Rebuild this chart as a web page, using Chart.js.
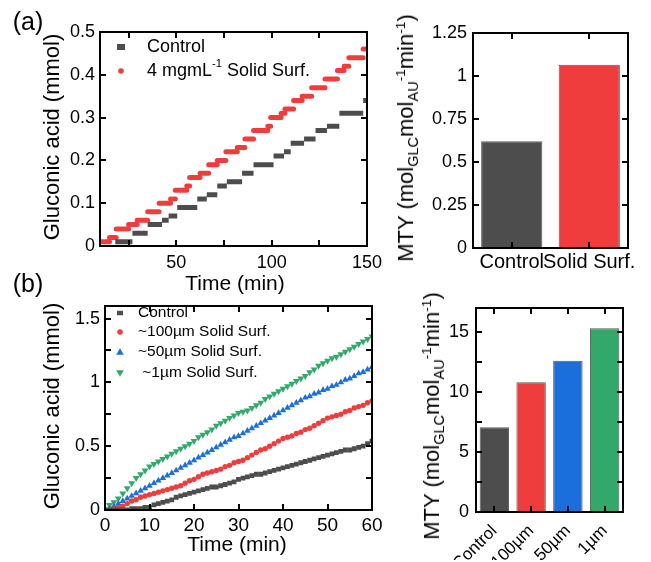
<!DOCTYPE html>
<html>
<head>
<meta charset="utf-8">
<script src="https://cdn.jsdelivr.net/npm/chart.js@4.4.1/dist/chart.umd.min.js"></script>
<style>
  body { margin: 0; background: #fff; }
  #fig { position: relative; width: 651px; height: 562px; overflow: hidden;
         font-family: 'Liberation Sans', Arial, sans-serif; color: #000; }
  #fig canvas { position: absolute; }
  .lbl { position: absolute; white-space: nowrap; line-height: 1; transform: translate(-50%, -50%); }
  .rot { transform: translate(-50%, -50%) rotate(-90deg); }
  .sub { font-size: 0.66em; vertical-align: -0.3em; }
  .sup { font-size: 0.62em; vertical-align: 0.6em; }
  .frame { position: absolute; box-sizing: border-box; border: 2px solid #000; pointer-events: none; }
  .tick { position: absolute; background: #000; pointer-events: none; }
</style>
</head>
<body>
<div id="fig">
  <canvas id="a1" width="395" height="300" style="left:0;top:0"></canvas>
  <canvas id="a2" width="271" height="300" style="left:380px;top:0"></canvas>
  <canvas id="b1" width="395" height="272" style="left:0;top:290px"></canvas>
  <canvas id="b2" width="271" height="272" style="left:380px;top:290px"></canvas>

  <div class="lbl" style="left:28px;top:21px;font-size:25px">(a)</div>
  <div class="lbl" style="left:28px;top:283px;font-size:25px">(b)</div>

  <div class="lbl rot" style="left:52px;top:137px;font-size:22px">Gluconic acid (mmol)</div>
  <div class="lbl" style="left:235px;top:282px;font-size:21px">Time (min)</div>
  <div class="lbl rot" style="left:407px;top:138px;font-size:22px">MTY (mol<span class="sub">GLC</span>mol<span class="sub">AU</span><span class="sup">-1</span>min<span class="sup">-1</span>)</div>

  <div class="lbl rot" style="left:52px;top:406px;font-size:22px">Gluconic acid (mmol)</div>
  <div class="lbl" style="left:237px;top:543px;font-size:21px">Time (min)</div>
  <div class="lbl rot" style="left:433px;top:416px;font-size:22px">MTY (mol<span class="sub">GLC</span>mol<span class="sub">AU</span><span class="sup">-1</span>min<span class="sup">-1</span>)</div>
</div>

<script>
// ---- (a) left: step data, [start min, end min, mmol]
const ctrlRunsA = [
  [18, 27, 0.01], [27, 35, 0.03], [35, 42.5, 0.05], [42.5, 46, 0.06], [46, 50.5, 0.07],
  [50.5, 61, 0.09], [61, 66, 0.11], [66, 71.5, 0.12], [71.5, 76.5, 0.14], [76.5, 84.5, 0.15],
  [84.5, 90.5, 0.17], [90.5, 101, 0.19], [101, 106.5, 0.21], [106.5, 110, 0.22], [110, 117, 0.24],
  [117, 123, 0.25], [123, 129, 0.27], [129, 135.5, 0.28], [135.5, 148, 0.31], [148, 150, 0.34]
];
const surfRunsA = [
  [10, 15, 0.01], [15, 18.5, 0.02], [18.5, 25, 0.04], [25, 29.5, 0.05], [29.5, 35, 0.06],
  [35, 41, 0.08], [41, 47, 0.10], [47, 49.5, 0.11], [49.5, 55.5, 0.13], [55.5, 57, 0.14],
  [57, 62.5, 0.16], [62.5, 67, 0.17], [67, 71.5, 0.19], [71.5, 76, 0.20], [76, 82, 0.22],
  [82, 86, 0.23], [86, 90.5, 0.25], [90.5, 98, 0.27], [98, 99.5, 0.28], [99.5, 105, 0.30],
  [105, 107, 0.31], [107, 111.5, 0.32], [111.5, 116, 0.34], [116, 121, 0.35], [121, 128, 0.37],
  [128, 134.5, 0.39], [134.5, 138, 0.41], [138, 140.5, 0.42], [140.5, 148, 0.44], [148, 150, 0.46]
];
const timeTicksA = [25, 50, 75, 100, 125, 150];
const timeLabelsA = [50, 100, 150];
const gluTicksA = [0, 0.1, 0.2, 0.3, 0.4, 0.5];

// ---- (a) right: bars
const barCatsA = ['Control', 'Solid Surf.'];
const mtyA = [0.62, 1.065];
const mtyTicksA = [0, 0.25, 0.5, 0.75, 1, 1.25];

// ---- (b) left: time course
const minutesB = [0, 1, 2, 3, 4, 5, 6, 7, 8, 9, 10, 11, 12, 13, 14, 15, 16, 17, 18, 19, 20,
  21, 22, 23, 24, 25, 26, 27, 28, 29, 30, 31, 32, 33, 34, 35, 36, 37, 38, 39, 40,
  41, 42, 43, 44, 45, 46, 47, 48, 49, 50, 51, 52, 53, 54, 55, 56, 57, 58, 59, 60];
const ctrlB = [0, 0, 0, 0, 0, 0, 0.01, 0.01, 0.01, 0.02, 0.02, 0.04, 0.05, 0.06, 0.07, 0.08,
  0.10, 0.11, 0.12, 0.13, 0.14, 0.15, 0.16, 0.17, 0.18, 0.18, 0.19, 0.20, 0.21, 0.22, 0.24,
  0.25, 0.26, 0.27, 0.28, 0.28, 0.29, 0.30, 0.31, 0.32, 0.33, 0.34, 0.35, 0.36, 0.37, 0.38,
  0.39, 0.40, 0.41, 0.42, 0.43, 0.44, 0.45, 0.46, 0.47, 0.47, 0.48, 0.49, 0.50, 0.52, 0.54];
const um100B = [0, 0, 0.01, 0.02, 0.03, 0.05, 0.07, 0.08, 0.10, 0.11, 0.12, 0.13, 0.14, 0.15,
  0.16, 0.17, 0.18, 0.19, 0.21, 0.23, 0.24, 0.26, 0.28, 0.29, 0.30, 0.31, 0.32, 0.34, 0.35,
  0.37, 0.38, 0.39, 0.41, 0.43, 0.45, 0.47, 0.48, 0.50, 0.52, 0.54, 0.56, 0.57, 0.58, 0.60,
  0.61, 0.63, 0.64, 0.66, 0.68, 0.70, 0.72, 0.73, 0.74, 0.75, 0.77, 0.78, 0.80, 0.81, 0.82, 0.84, 0.855];
const um50B = [0, 0.01, 0.03, 0.05, 0.07, 0.09, 0.11, 0.13, 0.15, 0.17, 0.19, 0.21, 0.23, 0.25,
  0.27, 0.29, 0.31, 0.33, 0.35, 0.37, 0.39, 0.41, 0.43, 0.45, 0.47, 0.49, 0.51, 0.53, 0.55,
  0.57, 0.58, 0.60, 0.62, 0.64, 0.66, 0.68, 0.70, 0.72, 0.74, 0.76, 0.78, 0.80, 0.82, 0.84,
  0.86, 0.88, 0.89, 0.91, 0.92, 0.94, 0.95, 0.97, 0.98, 1.00, 1.02, 1.03, 1.05, 1.07, 1.08, 1.10, 1.12];
const um1B = [0, 0.04, 0.06, 0.09, 0.13, 0.17, 0.21, 0.25, 0.28, 0.31, 0.34, 0.36, 0.38, 0.40,
  0.42, 0.44, 0.46, 0.48, 0.50, 0.52, 0.54, 0.57, 0.59, 0.61, 0.63, 0.66, 0.68, 0.70, 0.72,
  0.74, 0.76, 0.77, 0.78, 0.80, 0.82, 0.84, 0.87, 0.89, 0.91, 0.93, 0.95, 0.97, 0.99, 1.01,
  1.03, 1.05, 1.08, 1.10, 1.13, 1.15, 1.17, 1.19, 1.20, 1.22, 1.24, 1.26, 1.28, 1.30, 1.32, 1.34, 1.36];
const timeTicksB = [0, 10, 20, 30, 40, 50, 60];
const gluTicksB = [0, 0.25, 0.5, 0.75, 1, 1.25, 1.5];
const gluLabelsB = [0, 0.5, 1, 1.5];

// ---- (b) right: bars
const barCatsB = ['Control', '100µm', '50µm', '1µm'];
const mtyB = [7.05, 10.8, 12.6, 15.3];
const mtyTicksB = [0, 2.5, 5, 7.5, 10, 12.5, 15];
const mtyLabelsB = [0, 5, 10, 15];

const GRAY = '#4d4d4d', RED = '#ef3d3d', BLUE = '#1b6fdc', GREEN = '#33a86b';

Chart.defaults.font.family = "'Liberation Sans', Arial, sans-serif";
Chart.defaults.color = '#000';
Chart.defaults.animation = false;
Chart.defaults.responsive = false;
Chart.defaults.events = [];
Chart.defaults.plugins.legend.display = false;
Chart.defaults.plugins.tooltip.enabled = false;

const fig = document.getElementById('fig');

// plot box + inward ticks as page elements, placed from the chart's own scales
function addFrame(chart) {
  const c = chart.canvas;
  const ox = c.offsetLeft, oy = c.offsetTop;
  const xs = chart.scales.x, ys = chart.scales.y;
  const L = ox + Math.round(xs.left), R = ox + Math.round(xs.right);
  const T = oy + Math.round(ys.top), B = oy + Math.round(ys.bottom);
  const put = (cls, x, y, w, h) => {
    const d = document.createElement('div');
    d.className = cls;
    Object.assign(d.style, { left: x + 'px', top: y + 'px', width: w + 'px', height: h + 'px' });
    fig.appendChild(d);
  };
  put('frame', L - 1, T - 1, R - L + 2, B - T + 2);
  xs.ticks.forEach((t, i) => {
    const px = ox + Math.round(xs.getPixelForTick(i));
    put('tick', px - 1, B - 6, 2, 6);
    put('tick', px - 1, T, 2, 6);
  });
  ys.ticks.forEach((t, i) => {
    const py = oy + Math.round(ys.getPixelForTick(i));
    put('tick', L, py - 1, 6, 2);
    put('tick', R - 6, py - 1, 6, 2);
  });
}

function drawMarker(ctx, kind, color, x, y, r) {
  ctx.fillStyle = color;
  ctx.beginPath();
  if (kind === 'rect') {
    ctx.rect(x - r, y - r * 0.75, 2 * r, 1.5 * r);
  } else if (kind === 'circle') {
    ctx.arc(x, y, r, 0, Math.PI * 2);
  } else if (kind === 'triangle') {
    ctx.moveTo(x, y - r); ctx.lineTo(x + r, y + r * 0.75); ctx.lineTo(x - r, y + r * 0.75);
  } else if (kind === 'triangleDown') {
    ctx.moveTo(x, y + r); ctx.lineTo(x + r, y - r * 0.75); ctx.lineTo(x - r, y - r * 0.75);
  }
  ctx.closePath();
  ctx.fill();
}

// text with ^{...} superscripts
function drawRich(ctx, text, x, y, size) {
  const parts = text.split(/(\^\{[^}]*\})/);
  let cx = x;
  parts.forEach(p => {
    if (!p) return;
    const sup = p.startsWith('^{');
    const s = sup ? p.slice(2, -1) : p;
    const fs = sup ? size * 0.62 : size;
    ctx.font = fs + "px 'Liberation Sans', Arial, sans-serif";
    ctx.fillText(s, cx, sup ? y - size * 0.38 : y);
    cx += ctx.measureText(s).width;
  });
}

// legend drawn inside the plot
const innerLegend = {
  id: 'innerLegend',
  afterDraw(chart, args, o) {
    if (!o.items) return;
    const ctx = chart.ctx;
    ctx.save();
    ctx.textBaseline = 'middle';
    ctx.textAlign = 'left';
    o.items.forEach((it, i) => {
      const ds = chart.data.datasets[i];
      drawMarker(ctx, it.marker, ds.markerColor, o.markerX, it.y, it.r);
      ctx.fillStyle = '#000';
      drawRich(ctx, ds.label, o.textX, it.y, o.size);
    });
    ctx.restore();
  }
};
Chart.register(innerLegend);

function runsToPoints(runs) {
  return runs.flatMap(([t0, t1, v]) => [{ x: t0, y: v }, { x: t1, y: v }, { x: t1, y: null }]);
}
function pairs(xs, ys) {
  return xs.map((t, i) => ({ x: t, y: ys[i] }));
}
function tickList(vals) {
  return s => { s.ticks = vals.map(v => ({ value: v })); };
}
const near = (v, list) => list.some(l => Math.abs(l - v) < 1e-6);
const noGrid = () => ({ display: false, drawTicks: false });

// (a) left
const chartA1 = new Chart(document.getElementById('a1'), {
  type: 'line',
  data: {
    datasets: [
      { label: 'Control', data: runsToPoints(ctrlRunsA), borderColor: GRAY, markerColor: GRAY,
        borderWidth: 5, borderCapStyle: 'butt', pointRadius: 0, spanGaps: false },
      { label: '4 mgmL^{-1} Solid Surf.', data: runsToPoints(surfRunsA), borderColor: RED, markerColor: RED,
        borderWidth: 5, borderCapStyle: 'round', pointRadius: 0, spanGaps: false }
    ]
  },
  options: {
    layout: { padding: { top: 32, right: 28, bottom: 24, left: 0 } },
    scales: {
      x: {
        type: 'linear', min: 10, max: 150,
        grid: noGrid(), border: { display: false },
        afterBuildTicks: tickList(timeTicksA),
        ticks: { autoSkip: false, maxRotation: 0, padding: 6, font: { size: 18 },
                 callback: v => near(v, timeLabelsA) ? String(v) : '' },
        afterFit: s => { s.height = 30; }
      },
      y: {
        min: 0, max: 0.5,
        grid: noGrid(), border: { display: false },
        afterBuildTicks: tickList(gluTicksA),
        ticks: { padding: 5, font: { size: 18 }, callback: v => v === 0 ? '0' : v.toFixed(1) },
        afterFit: s => { s.width = 100; }
      }
    },
    plugins: {
      innerLegend: { markerX: 121, textX: 147, size: 18,
        items: [{ marker: 'rect', y: 47, r: 4 }, { marker: 'circle', y: 71, r: 2.8 }] }
    }
  }
});

// (a) right
const chartA2 = new Chart(document.getElementById('a2'), {
  type: 'bar',
  data: {
    labels: barCatsA,
    datasets: [{ data: mtyA, backgroundColor: [GRAY, RED], borderColor: '#5a5a5a', borderWidth: 1,
                 barPercentage: 0.79, categoryPercentage: 1 }]
  },
  options: {
    layout: { padding: { top: 33, right: 23, bottom: 22, left: 0 } },
    scales: {
      x: {
        grid: noGrid(), border: { display: false },
        ticks: { autoSkip: false, maxRotation: 0, padding: 2, font: { size: 20 } },
        afterFit: s => { s.height = 30; }
      },
      y: {
        min: 0, max: 1.25,
        grid: noGrid(), border: { display: false },
        afterBuildTicks: tickList(mtyTicksA),
        ticks: { padding: 6, font: { size: 18 }, callback: v => String(+v.toFixed(2)) },
        afterFit: s => { s.width = 93; }
      }
    }
  }
});

// (b) left
const chartB1 = new Chart(document.getElementById('b1'), {
  type: 'scatter',
  data: {
    datasets: [
      { label: 'Control', data: pairs(minutesB, ctrlB), pointStyle: 'rect', pointRadius: 3.4,
        backgroundColor: GRAY, borderWidth: 0, markerColor: GRAY },
      { label: '~100µm Solid Surf.', data: pairs(minutesB, um100B), pointStyle: 'circle', pointRadius: 2.7,
        backgroundColor: RED, borderWidth: 0, markerColor: RED },
      { label: '~50µm Solid Surf.', data: pairs(minutesB, um50B), pointStyle: 'triangle', pointRadius: 3.8,
        backgroundColor: BLUE, borderWidth: 0, markerColor: BLUE },
      { label: ' ~1µm Solid Surf.', data: pairs(minutesB, um1B), pointStyle: 'triangle', rotation: 180,
        pointRadius: 4, backgroundColor: GREEN, borderWidth: 0, markerColor: GREEN }
    ]
  },
  options: {
    layout: { padding: { top: 8, right: 23, bottom: 22, left: 0 } },
    scales: {
      x: {
        type: 'linear', min: 0, max: 60,
        grid: noGrid(), border: { display: false },
        afterBuildTicks: tickList(timeTicksB),
        ticks: { autoSkip: false, maxRotation: 0, padding: 4, font: { size: 19 } },
        afterFit: s => { s.height = 30; }
      },
      y: {
        min: 0, max: 1.6,
        grid: noGrid(), border: { display: false },
        afterBuildTicks: tickList(gluTicksB),
        ticks: { padding: 5, font: { size: 18 }, callback: v => near(v, gluLabelsB) ? String(v) : '' },
        afterFit: s => { s.width = 105; }
      }
    },
    plugins: {
      innerLegend: { markerX: 120, textX: 138, size: 15.5,
        items: [{ marker: 'rect', y: 23, r: 3 }, { marker: 'circle', y: 42, r: 2.8 },
                { marker: 'triangle', y: 62, r: 3.8 }, { marker: 'triangleDown', y: 83, r: 3.8 }] }
    }
  }
});

// (b) right
const chartB2 = new Chart(document.getElementById('b2'), {
  type: 'bar',
  data: {
    labels: barCatsB,
    datasets: [{ data: mtyB, backgroundColor: [GRAY, RED, BLUE, GREEN], borderColor: '#5a5a5a', borderWidth: 1,
                 barPercentage: 0.8, categoryPercentage: 1 }]
  },
  options: {
    layout: { padding: { top: 7, right: 28, bottom: 2, left: 0 } },
    scales: {
      x: {
        grid: noGrid(), border: { display: false },
        ticks: { autoSkip: false, minRotation: 45, maxRotation: 45, padding: 9, font: { size: 17 } },
        afterFit: s => { s.height = 48; }
      },
      y: {
        min: 0, max: 17,
        grid: noGrid(), border: { display: false },
        afterBuildTicks: tickList(mtyTicksB),
        ticks: { padding: 7, font: { size: 18 }, callback: v => near(v, mtyLabelsB) ? String(v) : '' },
        afterFit: s => { s.width = 96; }
      }
    }
  }
});

[chartA1, chartA2, chartB1, chartB2].forEach(addFrame);
</script>
</body>
</html>
